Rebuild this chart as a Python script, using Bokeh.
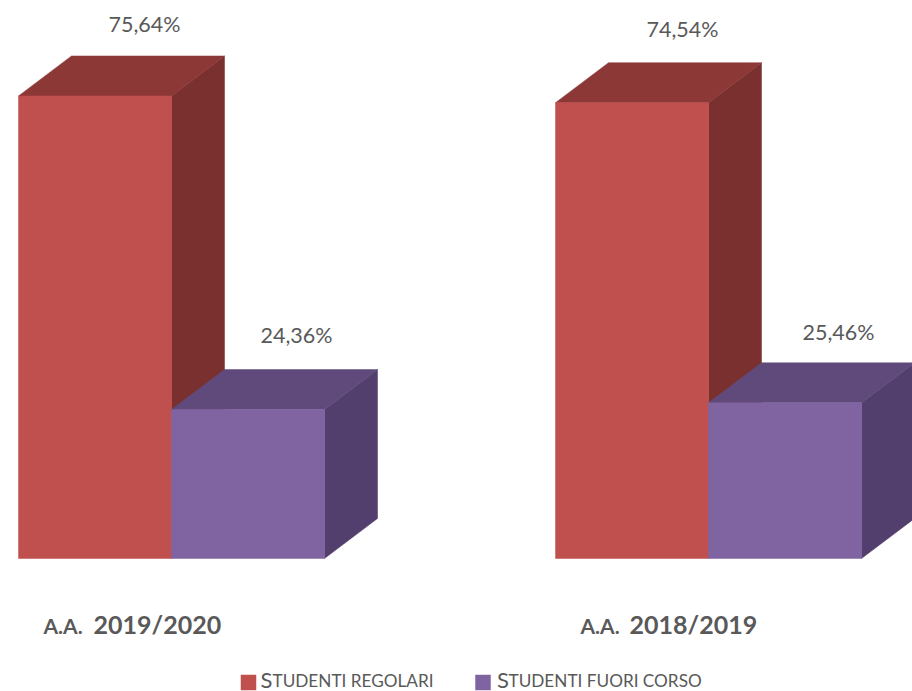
from bokeh.plotting import figure
from bokeh.models import ColumnDataSource
from bokeh.core.properties import value
from bokeh.embed import file_html
from bokeh.resources import INLINE

# ---- data ----
years = ["2019/2020", "2018/2019"]
regolari = [75.64, 74.54]
fuori_corso = [24.36, 25.46]
labels_regolari = ["75,64%", "74,54%"]
labels_fuori = ["24,36%", "25,46%"]
series_names = ["REGOLARI", "FUORI CORSO"]

# ---- layout constants (page pixels) ----
W, H = 912, 691
PX_PER_PCT = 6.115
BASE_Y = 558
GROUP_X = [18, 555]
BAR_W = 153
DX, DY = 53, 40
FONT = value("Lato")
GREY = "#595959"

y_top = BASE_Y / PX_PER_PCT
y_bot = (BASE_Y - H) / PX_PER_PCT
depth_y = DY / PX_PER_PCT

p = figure(width=W, height=H, x_range=(0, W), y_range=(y_bot, y_top),
           output_backend="svg", toolbar_location=None,
           x_axis_location=None, y_axis_location=None,
           min_border=0, outline_line_color=None, background_fill_color="white",
           border_fill_color="white")
p.grid.visible = False


def py(v):
    """page pixel row to data units (layout only)"""
    return (BASE_Y - v) / PX_PER_PCT


def draw_bar(x0, val, front, top, side):
    x1 = x0 + BAR_W
    for xs, ys, c in [
        ([x1, x1 + DX, x1 + DX, x1], [0, depth_y, val + depth_y, val], side),
        ([x0, x1, x1 + DX, x0 + DX], [val, val, val + depth_y, val + depth_y], top),
        ([x0, x1, x1, x0], [0, 0, val, val], front),
    ]:
        p.patch(xs, ys, fill_color=c, line_color=c, line_width=0.5)


for i, x0 in enumerate(GROUP_X):
    draw_bar(x0, regolari[i], "#C0504D", "#8C3836", "#7A302E")
    draw_bar(x0 + BAR_W, fuori_corso[i], "#8064A2", "#604A7B", "#523F6D")

# value labels
lab_x = [144, 682, 296, 838]
lab_mid = [23.5, 28.5, 334.5, 331.5]
lab = ColumnDataSource(dict(x=lab_x, y=[py(v) for v in lab_mid],
                            t=labels_regolari + labels_fuori))
p.text("x", "y", text="t", source=lab, text_font=FONT, text_font_size="21.5px",
       text_color=GREY, text_align="center", text_baseline="middle")

# group titles (small caps prefix + bold year)
p.text([43, 580], [py(624.5)] * 2, text=["A.A.", "A.A."], text_font=FONT, text_font_size="21px",
       text_font_style="bold", text_color=GREY, text_baseline="middle")
p.text([93, 629], [py(623)] * 2, text=years, text_font=FONT, text_font_size="25px",
       text_font_style="bold", text_color=GREY, text_baseline="middle")

# legend
p.scatter([248, 482.5], [py(682)] * 2, marker="square", size=15.5,
          fill_color=["#C0504D", "#8064A2"], line_color=None)
p.text([260, 496.5], [py(678.5)] * 2, text=["S", "S"], text_font=FONT, text_font_size="22px",
       text_color=GREY, text_baseline="middle", text_line_height=1.0)
p.text([272, 508], [py(680)] * 2, text=["TUDENTI " + s for s in series_names], text_font=FONT,
       text_font_size="17.2px", text_color=GREY, text_baseline="middle", text_line_height=1.0)

open("out.html", "w").write(file_html(p, INLINE))
